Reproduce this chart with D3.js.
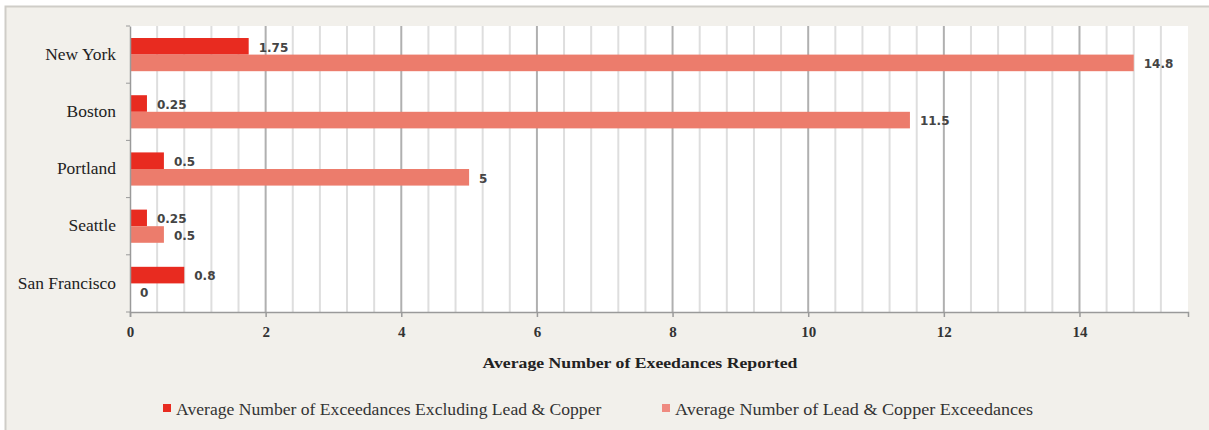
<!DOCTYPE html>
<html>
<head>
<meta charset="utf-8">
<script src="https://cdn.jsdelivr.net/npm/d3@7"></script>
<style>
  html, body { margin: 0; padding: 0; background: #ffffff; }
  svg { display: block; }
</style>
</head>
<body>
<svg id="chart" width="1209" height="430"></svg>
<script>
// Cities, top to bottom
const cities = ["New York", "Boston", "Portland", "Seattle", "San Francisco"];
// Average exceedances excluding lead & copper
const excludingLeadCopper = [1.75, 0.25, 0.5, 0.25, 0.8];
// Average lead & copper exceedances
const leadCopper = [14.8, 11.5, 5, 0.5, 0];
// Series names for the legend
const seriesNames = [
  "Average Number of Exceedances Excluding Lead & Copper",
  "Average Number of Lead & Copper Exceedances"
];
const xTicks = [0, 2, 4, 6, 8, 10, 12, 14];
const xTitle = "Average Number of Exeedances Reported";

const colors = ["#e82b20", "#ec7c6c"];
const serif = "'Liberation Serif', 'Times New Roman', serif";
const sans = "'DejaVu Sans', Verdana, sans-serif";

const svg = d3.select("#chart");
const W = 1209, H = 430;
const plot = { left: 130, top: 26, right: 1188, bottom: 312 };

// Widen a text element horizontally by a factor, keeping its glyph height
function stretch(sel, factor) {
  sel.each(function () {
    const len = this.getComputedTextLength();
    d3.select(this).attr("textLength", len * factor).attr("lengthAdjust", "spacingAndGlyphs");
  });
}

// Outer panel
svg.append("rect")
  .attr("x", 5.5).attr("y", 6.5)
  .attr("width", W + 10).attr("height", H + 10)
  .attr("fill", "#f2f0eb").attr("stroke", "#cfcdc8").attr("stroke-width", 2);

// Plot area
svg.append("rect")
  .attr("x", plot.left).attr("y", plot.top)
  .attr("width", plot.right - plot.left).attr("height", plot.bottom - plot.top)
  .attr("fill", "#ffffff");

const x = d3.scaleLinear().domain([0, 15.6]).range([plot.left, plot.right]);
const y = d3.scaleBand().domain(cities).range([plot.top, plot.bottom])
  .paddingInner(0.42).paddingOuter(0.21);
const ySeries = d3.scaleBand().domain([0, 1]).range([0, y.bandwidth()]);

// Vertical gridlines every 0.4, darker at the labelled values
const gridVals = d3.range(1, 39).map(i => +(i * 0.4).toFixed(1));
svg.append("g").selectAll("line")
  .data(gridVals)
  .join("line")
  .attr("x1", d => x(d)).attr("x2", d => x(d))
  .attr("y1", plot.top).attr("y2", plot.bottom)
  .attr("stroke", d => (Math.abs(d % 2) < 1e-6 || Math.abs(d % 2 - 2) < 1e-6) ? "#b0b0b0" : "#dedede")
  .attr("stroke-width", 2);

// Bars
const rows = cities.map((c, i) => ({ city: c, values: [excludingLeadCopper[i], leadCopper[i]] }));
const groups = svg.append("g").selectAll("g")
  .data(rows)
  .join("g")
  .attr("transform", d => `translate(0,${y(d.city)})`);

groups.selectAll("rect")
  .data(d => d.values.map((v, k) => ({ v, k })))
  .join("rect")
  .attr("x", x(0))
  .attr("y", d => ySeries(d.k))
  .attr("width", d => x(d.v) - x(0))
  .attr("height", ySeries.bandwidth())
  .attr("fill", d => colors[d.k]);

groups.selectAll("text")
  .data(d => d.values.map((v, k) => ({ v, k })))
  .join("text")
  .attr("x", d => x(d.v) + 10)
  .attr("y", d => ySeries(d.k) + ySeries.bandwidth() / 2)
  .attr("dy", "0.45em")
  .attr("font-family", sans)
  .attr("font-size", 12)
  .attr("font-weight", "bold")
  .attr("fill", "#444")
  .text(d => String(d.v));

// Left axis
const yAxis = d3.axisLeft(y).tickSize(0).tickPadding(14);
const yg = svg.append("g").attr("transform", `translate(${plot.left},0)`).call(yAxis);
yg.select(".domain").attr("stroke", "#9a9a9a").attr("stroke-width", 1.5);
yg.selectAll("text")
  .attr("font-family", serif).attr("font-size", 16).attr("fill", "#222")
  .call(stretch, 1.09);
// Category boundary ticks
const bounds = d3.range(cities.length + 1).map(i => plot.top + i * y.step());
svg.append("g").selectAll("line")
  .data(bounds)
  .join("line")
  .attr("x1", plot.left - 4).attr("x2", plot.left)
  .attr("y1", d => d).attr("y2", d => d)
  .attr("stroke", "#9a9a9a");

// Bottom axis
const xAxis = d3.axisBottom(x).tickValues(xTicks).tickSize(5).tickPadding(9)
  .tickFormat(d3.format("d"));
const xg = svg.append("g").attr("transform", `translate(0,${plot.bottom})`).call(xAxis);
xg.select(".domain").attr("stroke", "#9a9a9a").attr("stroke-width", 1.5);
xg.selectAll(".tick line").attr("stroke", "#9a9a9a").attr("stroke-width", 1.5);
xg.selectAll("text")
  .attr("font-family", serif).attr("font-size", 15).attr("font-weight", "bold").attr("fill", "#333");

// Axis title
svg.append("text")
  .attr("x", 640)
  .attr("y", 368)
  .attr("text-anchor", "middle")
  .attr("font-family", serif).attr("font-size", 15).attr("font-weight", "bold")
  .attr("fill", "#222")
  .text(xTitle)
  .call(stretch, 1.18);

// Legend
const legendX = [163, 662];
const legendStretch = [1.1, 1.13];
const legend = svg.append("g").selectAll("g")
  .data(seriesNames)
  .join("g")
  .attr("transform", (d, i) => `translate(${legendX[i]},404)`);
legend.append("rect")
  .attr("width", 8).attr("height", 8)
  .attr("fill", (d, i) => i === 0 ? colors[0] : "#ef8a80");
legend.append("text")
  .attr("x", 13).attr("y", 11)
  .attr("font-family", serif).attr("font-size", 16).attr("fill", "#333")
  .text(d => d)
  .each(function (d, i) { d3.select(this).call(stretch, legendStretch[i]); });
</script>
</body>
</html>
